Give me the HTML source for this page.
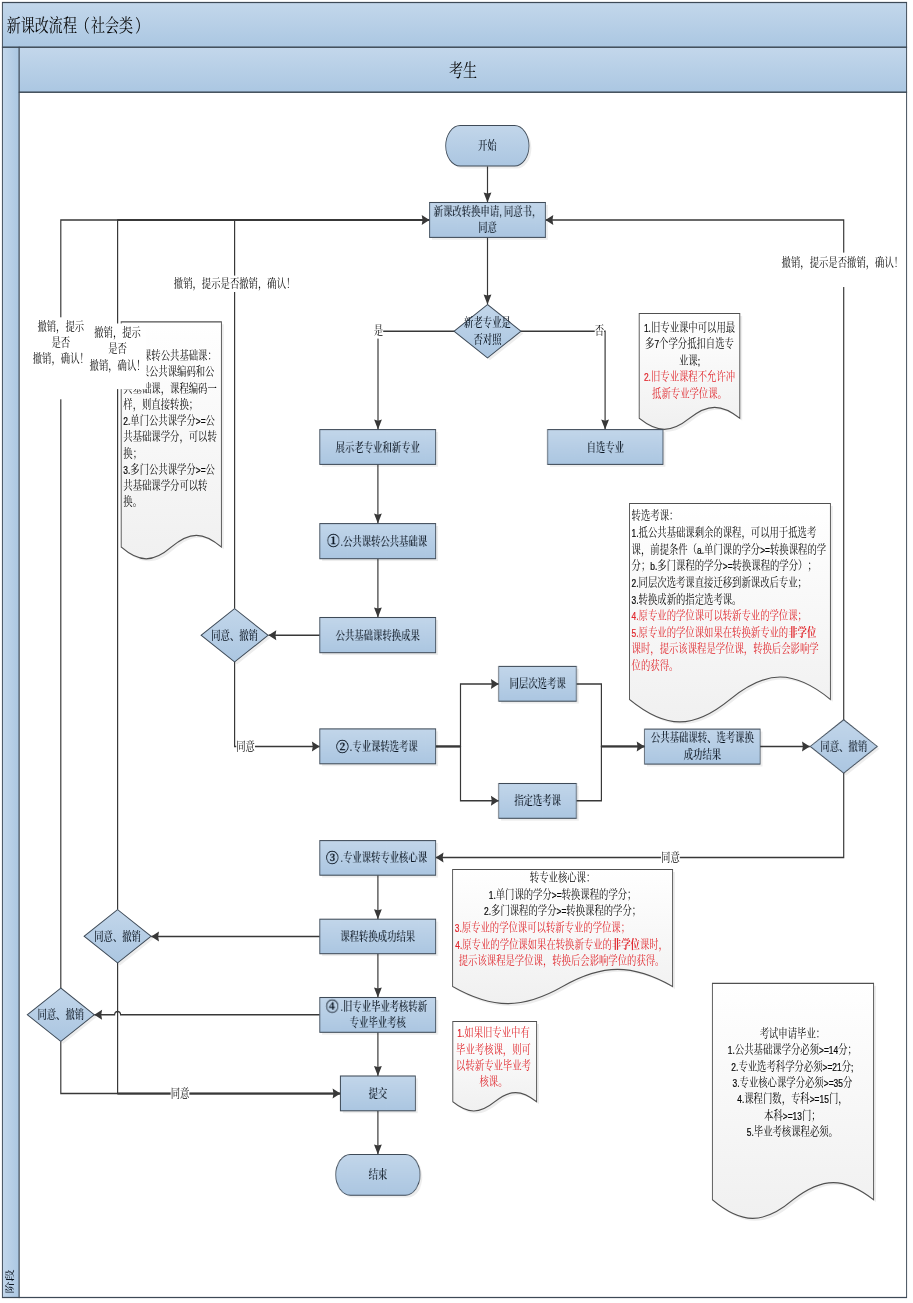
<!DOCTYPE html>
<html lang="zh-CN">
<head>
<meta charset="utf-8">
<title>新课改流程（社会类）</title>
<style>
html,body{margin:0;padding:0;background:#fff;}
body{width:913px;height:1303px;overflow:hidden;}
svg{display:block;font-family:"Liberation Sans","Noto Serif CJK SC",serif;will-change:transform;text-spacing-trim:space-all;font-weight:400;}
.s{font-weight:500;}
</style>
</head>
<body>
<svg width="913" height="1303" viewBox="0 0 913 1303">
<defs>
<linearGradient id="gt" x1="0" y1="0" x2="0" y2="1"><stop offset="0" stop-color="#c3d7eb"/><stop offset="1" stop-color="#abc7e2"/></linearGradient>
<linearGradient id="gs" x1="0" y1="0" x2="1" y2="0"><stop offset="0" stop-color="#c3d7eb"/><stop offset="1" stop-color="#abc7e2"/></linearGradient>
<linearGradient id="gb" x1="0" y1="0" x2="0" y2="1"><stop offset="0" stop-color="#c2d6ea"/><stop offset="1" stop-color="#abc6e1"/></linearGradient>
<linearGradient id="gn" x1="0" y1="0" x2="0" y2="1"><stop offset="0" stop-color="#ffffff"/><stop offset="1" stop-color="#f0f0f0"/></linearGradient>
</defs>
<g transform="scale(0.78,1)">
<rect x="3.08" y="2.5" width="1159.23" height="44.80" fill="url(#gt)" stroke="#3d4956" stroke-width="1.23"/>
<rect x="3.08" y="47.3" width="21.54" height="1250.20" fill="url(#gs)" stroke="#3d4956" stroke-width="1.23"/>
<rect x="24.62" y="47.3" width="1137.69" height="45.00" fill="url(#gt)" stroke="#3d4956" stroke-width="1.23"/>
<rect x="24.62" y="92.3" width="1137.69" height="1205.20" fill="#fff" stroke="#3d4956" stroke-width="1.23"/>
<text x="8.72" y="32.25" text-anchor="start" font-size="18" fill="#050505">新课改流程<tspan dx="-1.5">（</tspan><tspan dx="1.5">社</tspan>会类<tspan dx="2.5">）</tspan></text>
<text x="593.59" y="77.45" text-anchor="middle" font-size="18" fill="#050505">考生</text>
<text transform="translate(17.18,1293.4) rotate(-90) scale(1,0.93)" font-size="12" font-weight="500" fill="#0c1622">阶段</text>
<polyline points="625.00,166.40 625.00,202.50" fill="none" stroke="#383838" stroke-width="1.52"/>
<polygon points="625.00,202.50 620.00,192.50 625.00,193.60 630.00,192.50" fill="#383838"/>
<polyline points="625.00,237.40 625.00,304.40" fill="none" stroke="#383838" stroke-width="1.52"/>
<polygon points="625.00,304.40 620.00,294.40 625.00,295.50 630.00,294.40" fill="#383838"/>
<polyline points="582.31,331.20 484.62,331.20 484.62,429.60" fill="none" stroke="#383838" stroke-width="1.52"/>
<polygon points="484.62,429.60 479.62,419.60 484.62,420.70 489.62,419.60" fill="#383838"/>
<polyline points="667.69,331.20 775.77,331.20 775.77,429.60" fill="none" stroke="#383838" stroke-width="1.52"/>
<polygon points="775.77,429.60 770.77,419.60 775.77,420.70 780.77,419.60" fill="#383838"/>
<polyline points="484.49,464.40 484.49,523.60" fill="none" stroke="#383838" stroke-width="1.52"/>
<polygon points="484.49,523.60 479.49,513.60 484.49,514.70 489.49,513.60" fill="#383838"/>
<polyline points="484.49,558.70 484.49,617.50" fill="none" stroke="#383838" stroke-width="1.52"/>
<polygon points="484.49,617.50 479.49,607.50 484.49,608.60 489.49,607.50" fill="#383838"/>
<polyline points="409.87,635.30 344.23,635.30" fill="none" stroke="#383838" stroke-width="1.52"/>
<polygon points="344.23,635.30 354.23,630.30 353.13,635.30 354.23,640.30" fill="#383838"/>
<polyline points="300.77,608.70 300.77,220.00 550.64,220.00" fill="none" stroke="#383838" stroke-width="1.52"/>
<polygon points="550.64,220.00 540.64,215.00 541.74,220.00 540.64,225.00" fill="#383838"/>
<polyline points="300.77,661.90 300.77,746.40 409.87,746.40" fill="none" stroke="#383838" stroke-width="1.52"/>
<polygon points="409.87,746.40 399.87,741.40 400.97,746.40 399.87,751.40" fill="#383838"/>
<polyline points="558.59,746.40 590.38,746.40 590.38,684.00 639.36,684.00" fill="none" stroke="#383838" stroke-width="1.52"/>
<polygon points="639.36,684.00 629.36,679.00 630.46,684.00 629.36,689.00" fill="#383838"/>
<polyline points="558.59,746.40 590.38,746.40 590.38,800.80 639.36,800.80" fill="none" stroke="#383838" stroke-width="1.52"/>
<polygon points="639.36,800.80 629.36,795.80 630.46,800.80 629.36,805.80" fill="#383838"/>
<polyline points="738.85,684.00 771.03,684.00 771.03,746.40 826.28,746.40" fill="none" stroke="#383838" stroke-width="1.52"/>
<polygon points="826.28,746.40 816.28,741.40 817.38,746.40 816.28,751.40" fill="#383838"/>
<polyline points="738.85,800.80 771.03,800.80 771.03,746.40 826.28,746.40" fill="none" stroke="#383838" stroke-width="1.52"/>
<polyline points="974.49,746.40 1038.21,746.40" fill="none" stroke="#383838" stroke-width="1.52"/>
<polygon points="1038.21,746.40 1028.21,741.40 1029.31,746.40 1028.21,751.40" fill="#383838"/>
<polyline points="1081.67,719.90 1081.67,220.00 699.36,220.00" fill="none" stroke="#383838" stroke-width="1.52"/>
<polygon points="699.36,220.00 709.36,215.00 708.26,220.00 709.36,225.00" fill="#383838"/>
<polyline points="1081.67,773.00 1081.67,857.60 558.59,857.60" fill="none" stroke="#383838" stroke-width="1.52"/>
<polygon points="558.59,857.60 568.59,852.60 567.49,857.60 568.59,862.60" fill="#383838"/>
<polyline points="484.49,875.20 484.49,919.20" fill="none" stroke="#383838" stroke-width="1.52"/>
<polygon points="484.49,919.20 479.49,909.20 484.49,910.30 489.49,909.20" fill="#383838"/>
<polyline points="484.49,953.70 484.49,997.50" fill="none" stroke="#383838" stroke-width="1.52"/>
<polygon points="484.49,997.50 479.49,987.50 484.49,988.60 489.49,987.50" fill="#383838"/>
<polyline points="484.49,1032.30 484.49,1076.00" fill="none" stroke="#383838" stroke-width="1.52"/>
<polygon points="484.49,1076.00 479.49,1066.00 484.49,1067.10 489.49,1066.00" fill="#383838"/>
<polyline points="484.49,1110.80 484.49,1154.50" fill="none" stroke="#383838" stroke-width="1.52"/>
<polygon points="484.49,1154.50 479.49,1144.50 484.49,1145.60 489.49,1144.50" fill="#383838"/>
<polyline points="409.87,936.40 193.85,936.40" fill="none" stroke="#383838" stroke-width="1.52"/>
<polygon points="193.85,936.40 203.85,931.40 202.75,936.40 203.85,941.40" fill="#383838"/>
<polyline points="150.77,909.70 150.77,220.00 550.64,220.00" fill="none" stroke="#383838" stroke-width="1.52"/>
<polyline points="150.77,962.90 150.77,1093.60 436.41,1093.60" fill="none" stroke="#383838" stroke-width="1.52"/>
<polygon points="436.41,1093.60 426.41,1088.60 427.51,1093.60 426.41,1098.60" fill="#383838"/>
<path d="M409.87,1014.8 L154.62,1014.8 A3.85,3.4 0 0 0 146.92,1014.8 L120.90,1014.8" fill="none" stroke="#383838" stroke-width="1.52"/>
<polygon points="120.90,1014.80 130.90,1009.80 129.80,1014.80 130.90,1019.80" fill="#383838"/>
<polyline points="77.95,987.90 77.95,220.00 550.64,220.00" fill="none" stroke="#383838" stroke-width="1.52"/>
<polyline points="77.95,1041.50 77.95,1093.60 436.41,1093.60" fill="none" stroke="#383838" stroke-width="1.52"/>
<polyline points="150.77,1093.60 436.41,1093.60" fill="none" stroke="#383838" stroke-width="1.90"/>
<polyline points="300.77,220.00 550.64,220.00" fill="none" stroke="#383838" stroke-width="1.90"/>
<polyline points="558.59,746.40 590.38,746.40" fill="none" stroke="#383838" stroke-width="1.90"/>
<polyline points="771.03,746.40 826.28,746.40" fill="none" stroke="#383838" stroke-width="1.90"/>
<polyline points="150.77,220.00 300.77,220.00" fill="none" stroke="#383838" stroke-width="1.80"/>
<path d="M155.38,321.80 L283.85,321.80 L283.85,547.10 C260.50,531.37 242.96,531.37 219.62,547.10 C196.27,562.83 178.73,562.83 155.38,547.10 Z" transform="translate(3.08,2.4)" fill="#000" opacity="0.07"/>
<path d="M155.38,321.80 L283.85,321.80 L283.85,547.10 C260.50,531.37 242.96,531.37 219.62,547.10 C196.27,562.83 178.73,562.83 155.38,547.10 Z" fill="url(#gn)" stroke="#505050" stroke-width="1.16"/>
<text x="158.08" y="360.10" text-anchor="start" font-size="12" fill="#050505">公共课转公共基础课：</text>
<text x="158.08" y="376.35" text-anchor="start" font-size="12" fill="#050505"><tspan font-size="10.8" stroke="#050505" stroke-width="0.22">1.</tspan>如果公共课编码和公</text>
<text x="158.08" y="392.60" text-anchor="start" font-size="12" fill="#050505">共基础课，课程编码一</text>
<text x="158.08" y="408.85" text-anchor="start" font-size="12" fill="#050505">样，则直接转换；</text>
<text x="158.08" y="425.10" text-anchor="start" font-size="12" fill="#050505"><tspan font-size="10.8" stroke="#050505" stroke-width="0.22">2.</tspan>单门公共课学分<tspan font-size="10.8" stroke="#050505" stroke-width="0.22">&gt;=</tspan>公</text>
<text x="158.08" y="441.35" text-anchor="start" font-size="12" fill="#050505">共基础课学分，可以转</text>
<text x="158.08" y="457.60" text-anchor="start" font-size="12" fill="#050505">换；</text>
<text x="158.08" y="473.85" text-anchor="start" font-size="12" fill="#050505"><tspan font-size="10.8" stroke="#050505" stroke-width="0.22">3.</tspan>多门公共课学分<tspan font-size="10.8" stroke="#050505" stroke-width="0.22">&gt;=</tspan>公</text>
<text x="158.08" y="490.10" text-anchor="start" font-size="12" fill="#050505">共基础课学分可以转</text>
<text x="158.08" y="506.35" text-anchor="start" font-size="12" fill="#050505">换。</text>
<path d="M819.49,313.50 L948.46,313.50 L948.46,418.30 C925.03,403.63 907.41,403.63 883.97,418.30 C860.54,432.97 842.92,432.97 819.49,418.30 Z" transform="translate(3.08,2.4)" fill="#000" opacity="0.07"/>
<path d="M819.49,313.50 L948.46,313.50 L948.46,418.30 C925.03,403.63 907.41,403.63 883.97,418.30 C860.54,432.97 842.92,432.97 819.49,418.30 Z" fill="url(#gn)" stroke="#505050" stroke-width="1.16"/>
<text x="883.97" y="331.60" text-anchor="middle" font-size="12" fill="#050505"><tspan font-size="10.8" stroke="#050505" stroke-width="0.22">1.</tspan>旧专业课中可以用最</text>
<text x="883.97" y="348.20" text-anchor="middle" font-size="12" fill="#050505">多<tspan font-size="10.8" stroke="#050505" stroke-width="0.22">7</tspan>个学分抵扣自选专</text>
<text x="883.97" y="364.80" text-anchor="middle" font-size="12" fill="#050505">业课<tspan font-size="10.8" stroke="#050505" stroke-width="0.22">;</tspan></text>
<text x="883.97" y="381.40" text-anchor="middle" font-size="12" fill="#e0262c"><tspan font-size="10.8" stroke="#e0262c" stroke-width="0.22">2.</tspan>旧专业课程不允许冲</text>
<text x="883.97" y="398.00" text-anchor="middle" font-size="12" fill="#e0262c">抵新专业学位课。</text>
<path d="M807.05,503.50 L1064.62,503.50 L1064.62,699.40 C1017.82,669.53 982.63,669.53 935.83,699.40 C889.03,729.27 853.85,729.27 807.05,699.40 Z" transform="translate(3.08,2.4)" fill="#000" opacity="0.07"/>
<path d="M807.05,503.50 L1064.62,503.50 L1064.62,699.40 C1017.82,669.53 982.63,669.53 935.83,699.40 C889.03,729.27 853.85,729.27 807.05,699.40 Z" fill="url(#gn)" stroke="#505050" stroke-width="1.16"/>
<text x="809.74" y="520.50" text-anchor="start" font-size="12" fill="#050505">转选考课：</text>
<text x="809.74" y="537.12" text-anchor="start" font-size="12" fill="#050505"><tspan font-size="10.8" stroke="#050505" stroke-width="0.22">1.</tspan>抵公共基础课剩余的课程，可以用于抵选考</text>
<text x="809.74" y="553.74" text-anchor="start" font-size="12" fill="#050505">课，前提条件（<tspan font-size="10.8" stroke="#050505" stroke-width="0.22">a.</tspan>单门课的学分<tspan font-size="10.8" stroke="#050505" stroke-width="0.22">&gt;=</tspan>转换课程的学</text>
<text x="809.74" y="570.36" text-anchor="start" font-size="12" fill="#050505">分；<tspan font-size="10.8" stroke="#050505" stroke-width="0.22">b.</tspan>多门课程的学分<tspan font-size="10.8" stroke="#050505" stroke-width="0.22">&gt;=</tspan>转换课程的学分）；</text>
<text x="809.74" y="586.98" text-anchor="start" font-size="12" fill="#050505"><tspan font-size="10.8" stroke="#050505" stroke-width="0.22">2.</tspan>同层次选考课直接迁移到新课改后专业；</text>
<text x="809.74" y="603.60" text-anchor="start" font-size="12" fill="#050505"><tspan font-size="10.8" stroke="#050505" stroke-width="0.22">3.</tspan>转换成新的指定选考课。</text>
<text x="809.74" y="620.22" text-anchor="start" font-size="12" fill="#e0262c"><tspan font-size="10.8" stroke="#e0262c" stroke-width="0.22">4.</tspan>原专业的学位课可以转新专业的学位课；</text>
<text x="809.74" y="636.84" text-anchor="start" font-size="12" fill="#e0262c"><tspan font-size="10.8" stroke="#e0262c" stroke-width="0.22">5.</tspan>原专业的学位课如果在转换新专业的<tspan font-weight="bold">非学位</tspan></text>
<text x="809.74" y="653.46" text-anchor="start" font-size="12" fill="#e0262c">课时，提示该课程是学位课，转换后会影响学</text>
<text x="809.74" y="670.08" text-anchor="start" font-size="12" fill="#e0262c">位的获得。</text>
<path d="M580.26,869.50 L862.31,869.50 L862.31,986.50 C811.06,963.70 772.53,963.70 721.28,986.50 C670.03,1009.30 631.51,1009.30 580.26,986.50 Z" transform="translate(3.08,2.4)" fill="#000" opacity="0.07"/>
<path d="M580.26,869.50 L862.31,869.50 L862.31,986.50 C811.06,963.70 772.53,963.70 721.28,986.50 C670.03,1009.30 631.51,1009.30 580.26,986.50 Z" fill="url(#gn)" stroke="#505050" stroke-width="1.16"/>
<text x="721.28" y="882.30" text-anchor="middle" font-size="12" fill="#050505">转专业核心课：</text>
<text x="721.28" y="898.90" text-anchor="middle" font-size="12" fill="#050505"><tspan font-size="10.8" stroke="#050505" stroke-width="0.22">1.</tspan>单门课的学分<tspan font-size="10.8" stroke="#050505" stroke-width="0.22">&gt;=</tspan>转换课程的学分；</text>
<text x="721.28" y="915.50" text-anchor="middle" font-size="12" fill="#050505"><tspan font-size="10.8" stroke="#050505" stroke-width="0.22">2.</tspan>多门课程的学分<tspan font-size="10.8" stroke="#050505" stroke-width="0.22">&gt;=</tspan>转换课程的学分；</text>
<text x="695.38" y="932.10" text-anchor="middle" font-size="12" fill="#e0262c"><tspan font-size="10.8" stroke="#e0262c" stroke-width="0.22">3.</tspan>原专业的学位课可以转新专业的学位课；</text>
<text x="720.00" y="948.70" text-anchor="middle" font-size="12" fill="#e0262c"><tspan font-size="10.8" stroke="#e0262c" stroke-width="0.22">4.</tspan>原专业的学位课如果在转换新专业的<tspan font-weight="bold">非学位</tspan>课时，</text>
<text x="720.00" y="965.30" text-anchor="middle" font-size="12" fill="#e0262c">提示该课程是学位课，转换后会影响学位的获得。</text>
<path d="M580.51,1021.50 L687.95,1021.50 L687.95,1101.80 C668.43,1089.53 653.75,1089.53 634.23,1101.80 C614.71,1114.07 600.03,1114.07 580.51,1101.80 Z" transform="translate(3.08,2.4)" fill="#000" opacity="0.07"/>
<path d="M580.51,1021.50 L687.95,1021.50 L687.95,1101.80 C668.43,1089.53 653.75,1089.53 634.23,1101.80 C614.71,1114.07 600.03,1114.07 580.51,1101.80 Z" fill="url(#gn)" stroke="#505050" stroke-width="1.16"/>
<text x="632.69" y="1037.45" text-anchor="middle" font-size="12" fill="#e0262c"><tspan font-size="10.8" stroke="#e0262c" stroke-width="0.22">1.</tspan>如果旧专业中有</text>
<text x="632.69" y="1053.63" text-anchor="middle" font-size="12" fill="#e0262c">毕业考核课，则可</text>
<text x="632.69" y="1069.81" text-anchor="middle" font-size="12" fill="#e0262c">以转新专业毕业考</text>
<text x="632.69" y="1085.99" text-anchor="middle" font-size="12" fill="#e0262c">核课。</text>
<path d="M913.33,983.30 L1120.00,983.30 L1120.00,1199.80 C1082.45,1176.87 1054.22,1176.87 1016.67,1199.80 C979.12,1224.60 950.88,1224.60 913.33,1199.80 Z" transform="translate(3.08,2.4)" fill="#000" opacity="0.07"/>
<path d="M913.33,983.30 L1120.00,983.30 L1120.00,1199.80 C1082.45,1176.87 1054.22,1176.87 1016.67,1199.80 C979.12,1224.60 950.88,1224.60 913.33,1199.80 Z" fill="url(#gn)" stroke="#505050" stroke-width="1.16"/>
<text x="1015.90" y="1037.70" text-anchor="middle" font-size="12" fill="#050505">考试申请毕业：</text>
<text x="1015.90" y="1054.15" text-anchor="middle" font-size="12" fill="#050505"><tspan font-size="10.8" stroke="#050505" stroke-width="0.22">1.</tspan>公共基础课学分必须<tspan font-size="10.8" stroke="#050505" stroke-width="0.22">&gt;=14</tspan>分；</text>
<text x="1015.90" y="1070.60" text-anchor="middle" font-size="12" fill="#050505"><tspan font-size="10.8" stroke="#050505" stroke-width="0.22">2.</tspan>专业选考科学分必须<tspan font-size="10.8" stroke="#050505" stroke-width="0.22">&gt;=21</tspan>分<tspan font-size="10.8" stroke="#050505" stroke-width="0.22">;</tspan></text>
<text x="1015.90" y="1087.05" text-anchor="middle" font-size="12" fill="#050505"><tspan font-size="10.8" stroke="#050505" stroke-width="0.22">3.</tspan>专业核心课学分必须<tspan font-size="10.8" stroke="#050505" stroke-width="0.22">&gt;=35</tspan>分</text>
<text x="1015.90" y="1103.50" text-anchor="middle" font-size="12" fill="#050505"><tspan font-size="10.8" stroke="#050505" stroke-width="0.22">4.</tspan>课程门数，专科<tspan font-size="10.8" stroke="#050505" stroke-width="0.22">&gt;=15</tspan>门，</text>
<text x="1015.90" y="1119.95" text-anchor="middle" font-size="12" fill="#050505">本科<tspan font-size="10.8" stroke="#050505" stroke-width="0.22">&gt;=13</tspan>门；</text>
<text x="1015.90" y="1136.40" text-anchor="middle" font-size="12" fill="#050505"><tspan font-size="10.8" stroke="#050505" stroke-width="0.22">5.</tspan>毕业考核课程必须。</text>
<rect x="41.95" y="317.30" width="72.00" height="82.00" fill="#fff"/>
<text x="77.95" y="330.60" text-anchor="middle" font-size="12" fill="#050505">撤销，提示</text>
<text x="77.95" y="347.00" text-anchor="middle" font-size="12" fill="#050505">是否</text>
<text x="77.95" y="363.40" text-anchor="middle" font-size="12" fill="#050505">撤销，确认！</text>
<rect x="114.77" y="323.50" width="73.03" height="65.60" fill="#fff"/>
<text x="150.77" y="336.80" text-anchor="middle" font-size="12" fill="#050505">撤销，提示</text>
<text x="150.77" y="353.20" text-anchor="middle" font-size="12" fill="#050505">是否</text>
<text x="150.77" y="369.60" text-anchor="middle" font-size="12" fill="#050505">撤销，确认！</text>
<rect x="222.77" y="275.60" width="156.00" height="16.40" fill="#fff"/>
<text x="300.77" y="288.00" text-anchor="middle" font-size="12" fill="#050505">撤销，提示是否撤销，确认！</text>
<rect x="1000.97" y="252.60" width="156.00" height="34.44" fill="#fff"/>
<text x="1080.00" y="267.20" text-anchor="middle" font-size="12" fill="#050505">撤销，提示是否撤销，确认！</text>
<rect x="479.26" y="322.20" width="12.00" height="16.40" fill="#fff"/>
<text x="485.26" y="335.50" text-anchor="middle" font-size="12" fill="#050505">是</text>
<rect x="762.46" y="322.20" width="12.00" height="16.40" fill="#fff"/>
<text x="768.46" y="335.50" text-anchor="middle" font-size="12" fill="#050505">否</text>
<rect x="302.87" y="738.20" width="24.00" height="16.40" fill="#fff"/>
<text x="314.87" y="750.90" text-anchor="middle" font-size="12" fill="#050505">同意</text>
<rect x="847.49" y="849.40" width="24.00" height="16.40" fill="#fff"/>
<text x="859.49" y="861.70" text-anchor="middle" font-size="12" fill="#050505">同意</text>
<rect x="218.77" y="1085.40" width="24.00" height="16.40" fill="#fff"/>
<text x="230.77" y="1098.00" text-anchor="middle" font-size="12" fill="#050505">同意</text>
<rect x="574.49" y="128.00" width="106.79" height="40.50" rx="18.6" ry="20.25" fill="#000" opacity="0.07"/>
<rect x="571.41" y="125.60" width="106.79" height="40.50" rx="18.6" ry="20.25" fill="url(#gb)" stroke="#3e4a57" stroke-width="1.04"/>
<text class="s" x="624.81" y="149.65" text-anchor="middle" font-size="12" fill="#0c1622">开始</text>
<rect x="553.72" y="204.90" width="148.72" height="34.90" fill="#000" opacity="0.07"/>
<rect x="550.64" y="202.50" width="148.72" height="34.90" fill="url(#gb)" stroke="#3e4a57" stroke-width="1.04"/>
<text class="s" x="625.00" y="215.75" text-anchor="middle" font-size="12" fill="#0c1622">新课改转换申请<tspan letter-spacing="2.7">,</tspan>同意书，</text>
<text class="s" x="625.00" y="232.35" text-anchor="middle" font-size="12" fill="#0c1622">同意</text>
<polygon points="625.00,304.50 667.95,331.20 625.00,357.90 582.05,331.20" transform="translate(3.08,2.4)" fill="#000" opacity="0.07"/>
<polygon points="625.00,304.50 667.95,331.20 625.00,357.90 582.05,331.20" fill="url(#gb)" stroke="#3e4a57" stroke-width="1.04"/>
<text class="s" x="625.00" y="327.00" text-anchor="middle" font-size="12" fill="#0c1622">新老专业是</text>
<text class="s" x="625.00" y="343.60" text-anchor="middle" font-size="12" fill="#0c1622">否对照</text>
<rect x="412.95" y="432.00" width="148.72" height="34.80" fill="#000" opacity="0.07"/>
<rect x="409.87" y="429.60" width="148.72" height="34.80" fill="url(#gb)" stroke="#3e4a57" stroke-width="1.04"/>
<text class="s" x="484.23" y="451.60" text-anchor="middle" font-size="12" fill="#0c1622">展示老专业和新专业</text>
<rect x="705.00" y="432.00" width="148.08" height="34.80" fill="#000" opacity="0.07"/>
<rect x="701.92" y="429.60" width="148.08" height="34.80" fill="url(#gb)" stroke="#3e4a57" stroke-width="1.04"/>
<text class="s" x="775.96" y="451.60" text-anchor="middle" font-size="12" fill="#0c1622">自选专业</text>
<rect x="412.95" y="526.00" width="148.72" height="35.10" fill="#000" opacity="0.07"/>
<rect x="409.87" y="523.60" width="148.72" height="35.10" fill="url(#gb)" stroke="#3e4a57" stroke-width="1.04"/>
<text class="s" x="484.23" y="545.75" text-anchor="middle" font-size="12" fill="#0c1622"><tspan dx="7.75">.</tspan>公共课转公共基础课</text>
<text transform="translate(427.44,545.45) scale(1.27,1)" text-anchor="middle" font-size="12.9" font-weight="600" fill="#0c1622" stroke="#0c1622" stroke-width="0.25">①</text>
<rect x="412.95" y="619.90" width="148.72" height="35.20" fill="#000" opacity="0.07"/>
<rect x="409.87" y="617.50" width="148.72" height="35.20" fill="url(#gb)" stroke="#3e4a57" stroke-width="1.04"/>
<text class="s" x="484.23" y="639.70" text-anchor="middle" font-size="12" fill="#0c1622">公共基础课转换成果</text>
<polygon points="300.77,608.60 343.72,635.30 300.77,662.00 257.82,635.30" transform="translate(3.08,2.4)" fill="#000" opacity="0.07"/>
<polygon points="300.77,608.60 343.72,635.30 300.77,662.00 257.82,635.30" fill="url(#gb)" stroke="#3e4a57" stroke-width="1.04"/>
<text class="s" x="300.77" y="639.90" text-anchor="middle" font-size="12" fill="#0c1622">同意、撤销</text>
<rect x="642.44" y="668.80" width="99.62" height="34.80" fill="#000" opacity="0.07"/>
<rect x="639.36" y="666.40" width="99.62" height="34.80" fill="url(#gb)" stroke="#3e4a57" stroke-width="1.04"/>
<text class="s" x="689.17" y="688.40" text-anchor="middle" font-size="12" fill="#0c1622">同层次选考课</text>
<rect x="412.95" y="731.30" width="148.72" height="34.90" fill="#000" opacity="0.07"/>
<rect x="409.87" y="728.90" width="148.72" height="34.90" fill="url(#gb)" stroke="#3e4a57" stroke-width="1.04"/>
<text class="s" x="484.23" y="750.95" text-anchor="middle" font-size="12" fill="#0c1622"><tspan dx="7.75">.</tspan>专业课转选考课</text>
<text transform="translate(438.97,750.75) scale(1.27,1)" text-anchor="middle" font-size="12.9" font-weight="600" fill="#0c1622" stroke="#0c1622" stroke-width="0.25">②</text>
<rect x="642.44" y="785.90" width="99.62" height="34.80" fill="#000" opacity="0.07"/>
<rect x="639.36" y="783.50" width="99.62" height="34.80" fill="url(#gb)" stroke="#3e4a57" stroke-width="1.04"/>
<text class="s" x="689.17" y="805.50" text-anchor="middle" font-size="12" fill="#0c1622">指定选考课</text>
<rect x="829.49" y="731.50" width="148.08" height="35.00" fill="#000" opacity="0.07"/>
<rect x="826.41" y="729.10" width="148.08" height="35.00" fill="url(#gb)" stroke="#3e4a57" stroke-width="1.04"/>
<text class="s" x="900.45" y="742.40" text-anchor="middle" font-size="12" fill="#0c1622">公共基础课转、选考课换</text>
<text class="s" x="900.45" y="759.00" text-anchor="middle" font-size="12" fill="#0c1622">成功结果</text>
<polygon points="1081.67,719.70 1124.62,746.40 1081.67,773.10 1038.72,746.40" transform="translate(3.08,2.4)" fill="#000" opacity="0.07"/>
<polygon points="1081.67,719.70 1124.62,746.40 1081.67,773.10 1038.72,746.40" fill="url(#gb)" stroke="#3e4a57" stroke-width="1.04"/>
<text class="s" x="1081.67" y="751.00" text-anchor="middle" font-size="12" fill="#0c1622">同意、撤销</text>
<rect x="412.95" y="843.00" width="148.72" height="34.60" fill="#000" opacity="0.07"/>
<rect x="409.87" y="840.60" width="148.72" height="34.60" fill="url(#gb)" stroke="#3e4a57" stroke-width="1.04"/>
<text class="s" x="484.23" y="862.50" text-anchor="middle" font-size="12" fill="#0c1622"><tspan dx="7.75">.</tspan>专业课转专业核心课</text>
<text transform="translate(426.03,862.25) scale(1.27,1)" text-anchor="middle" font-size="12.9" font-weight="600" fill="#0c1622" stroke="#0c1622" stroke-width="0.25">③</text>
<rect x="412.95" y="921.60" width="148.72" height="34.50" fill="#000" opacity="0.07"/>
<rect x="409.87" y="919.20" width="148.72" height="34.50" fill="url(#gb)" stroke="#3e4a57" stroke-width="1.04"/>
<text class="s" x="484.23" y="941.05" text-anchor="middle" font-size="12" fill="#0c1622">课程转换成功结果</text>
<polygon points="150.77,909.60 193.72,936.30 150.77,963.00 107.82,936.30" transform="translate(3.08,2.4)" fill="#000" opacity="0.07"/>
<polygon points="150.77,909.60 193.72,936.30 150.77,963.00 107.82,936.30" fill="url(#gb)" stroke="#3e4a57" stroke-width="1.04"/>
<text class="s" x="150.77" y="940.90" text-anchor="middle" font-size="12" fill="#0c1622">同意、撤销</text>
<rect x="412.95" y="999.90" width="148.72" height="34.80" fill="#000" opacity="0.07"/>
<rect x="409.87" y="997.50" width="148.72" height="34.80" fill="url(#gb)" stroke="#3e4a57" stroke-width="1.04"/>
<text class="s" x="484.23" y="1010.70" text-anchor="middle" font-size="12" fill="#0c1622"><tspan dx="7.75">.</tspan>旧专业毕业考核转新</text>
<text class="s" x="484.23" y="1027.30" text-anchor="middle" font-size="12" fill="#0c1622">专业毕业考核</text>
<text transform="translate(426.03,1010.65) scale(1.27,1)" text-anchor="middle" font-size="12.9" font-weight="600" fill="#0c1622" stroke="#0c1622" stroke-width="0.25">④</text>
<polygon points="77.95,988.00 120.90,1014.70 77.95,1041.40 35.00,1014.70" transform="translate(3.08,2.4)" fill="#000" opacity="0.07"/>
<polygon points="77.95,988.00 120.90,1014.70 77.95,1041.40 35.00,1014.70" fill="url(#gb)" stroke="#3e4a57" stroke-width="1.04"/>
<text class="s" x="77.95" y="1019.30" text-anchor="middle" font-size="12" fill="#0c1622">同意、撤销</text>
<rect x="439.49" y="1078.40" width="96.03" height="34.80" fill="#000" opacity="0.07"/>
<rect x="436.41" y="1076.00" width="96.03" height="34.80" fill="url(#gb)" stroke="#3e4a57" stroke-width="1.04"/>
<text class="s" x="484.42" y="1098.00" text-anchor="middle" font-size="12" fill="#0c1622">提交</text>
<rect x="433.59" y="1156.90" width="107.82" height="40.70" rx="18.6" ry="20.35" fill="#000" opacity="0.07"/>
<rect x="430.51" y="1154.50" width="107.82" height="40.70" rx="18.6" ry="20.35" fill="url(#gb)" stroke="#3e4a57" stroke-width="1.04"/>
<text class="s" x="484.42" y="1178.65" text-anchor="middle" font-size="12" fill="#0c1622">结束</text>
</g>
</svg>
</body>
</html>
